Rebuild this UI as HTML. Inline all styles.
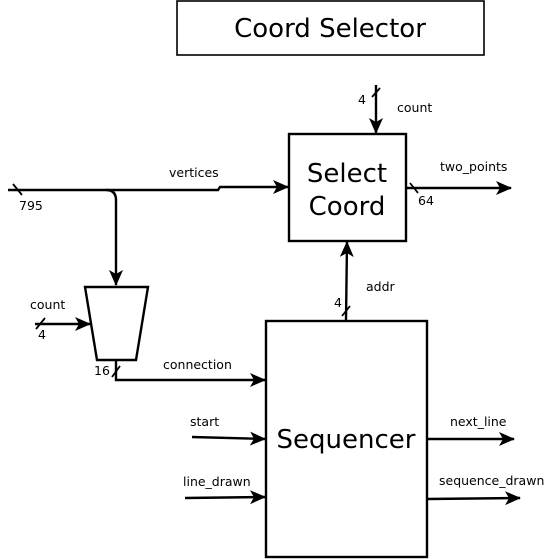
<!DOCTYPE html>
<html><head><style>
html,body{margin:0;padding:0;background:#fff;}
svg{display:block;}
text{font-family:"DejaVu Sans","Liberation Sans",sans-serif;fill:#000;}
</style></head><body>
<svg width="545" height="559" viewBox="0 0 545 559" xmlns="http://www.w3.org/2000/svg">
<defs><marker id="a" markerWidth="16" markerHeight="14" refX="15" refY="7" orient="auto" markerUnits="userSpaceOnUse"><path d="M0,0 L16,7 L0,14 L4,7 Z" fill="#000"/></marker></defs>
<g fill="none" stroke="#000" stroke-width="2.4">
<rect x="177" y="1" width="307" height="54" stroke-width="1.6"/>
<rect x="289" y="134" width="117" height="107"/>
<rect x="266" y="321" width="161" height="236"/>
<path d="M85,287 L148,287 L136,360 L97,360 Z"/>
<path d="M8,190 L106,190 Q116,190 116,200 L116,285" marker-end="url(#a)"/>
<path d="M106,190 L218,190 L220,187 L288,187" marker-end="url(#a)"/>
<path d="M35,324 L90,324" marker-end="url(#a)"/>
<path d="M116,360 L116,380 L265,380" marker-end="url(#a)"/>
<path d="M192,437 L265,439" marker-end="url(#a)"/>
<path d="M185,498 L265,497" marker-end="url(#a)"/>
<path d="M427,439 L514,439" marker-end="url(#a)"/>
<path d="M427,499 L520,498" marker-end="url(#a)"/>
<path d="M376,85 L376,133" marker-end="url(#a)"/>
<path d="M346,320 L347,242" marker-end="url(#a)"/>
<path d="M406,188 L511,188" marker-end="url(#a)"/>
<path d="M13,184 L22,195 M36,329 L45,318 M112,377 L120,366 M372,97 L380,88 M342,316 L350,306 M410,183 L418,193" stroke-width="1.8"/>
</g>
<text x="330" y="37" font-size="26" text-anchor="middle">Coord Selector</text>
<text x="347" y="182" font-size="26" text-anchor="middle">Select</text>
<text x="347" y="215" font-size="26" text-anchor="middle">Coord</text>
<text x="346" y="448" font-size="26" text-anchor="middle">Sequencer</text>
<g font-size="12.5">
<text x="169" y="177">vertices</text>
<text x="19" y="210">795</text>
<text x="30" y="309">count</text>
<text x="38" y="339">4</text>
<text x="94" y="375">16</text>
<text x="163" y="369">connection</text>
<text x="190" y="426">start</text>
<text x="183" y="486">line_drawn</text>
<text x="450" y="426">next_line</text>
<text x="439" y="485">sequence_drawn</text>
<text x="358" y="104">4</text>
<text x="397" y="112">count</text>
<text x="440" y="171">two_points</text>
<text x="418" y="205">64</text>
<text x="366" y="291">addr</text>
<text x="334" y="307">4</text>
</g>
</svg>
</body></html>
